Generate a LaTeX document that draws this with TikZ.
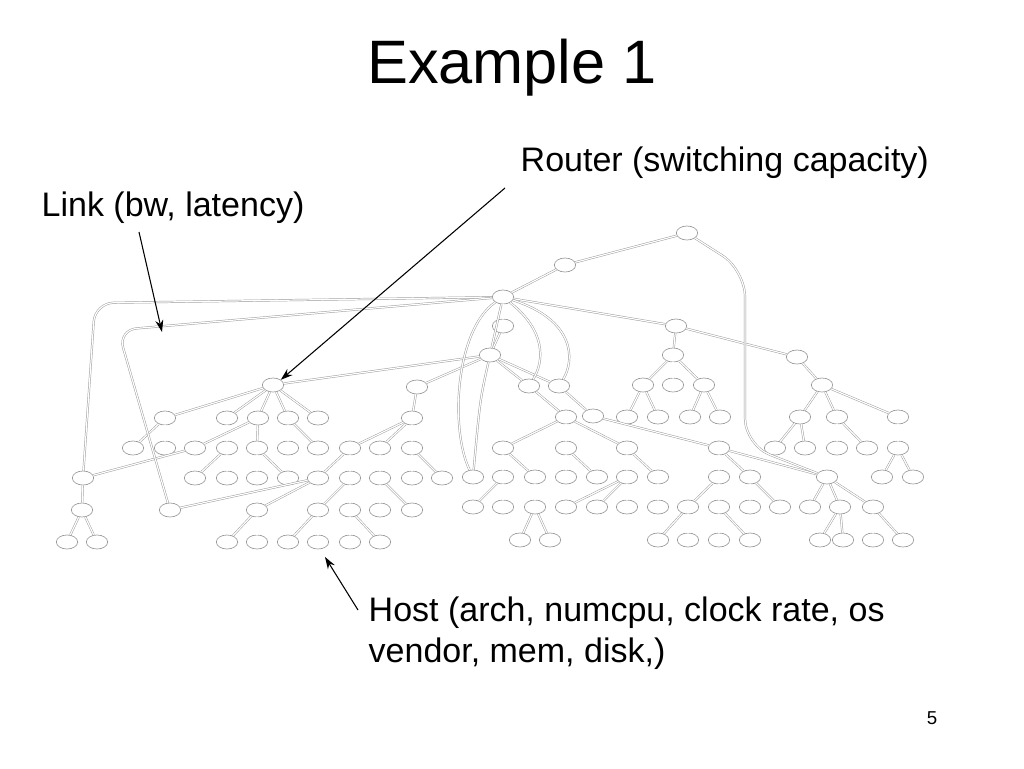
\documentclass[tikz,border=0pt]{standalone}
\usepackage{fontspec}
\setmainfont{Liberation Sans}
\usetikzlibrary{shapes.geometric,arrows.meta}
\begin{document}
\begin{tikzpicture}[x=0.75pt,y=-0.75pt,
    host/.style={draw=gray!80, ellipse, line width=0.5pt, minimum width=16pt, minimum height=10.5pt, inner sep=0pt},
    link/.style={draw=gray!80, line width=0.35pt, double=white, double distance=0.9pt},
    callout/.style={-{Stealth[length=9pt,width=6pt]}, line width=0.8pt},
    label/.style={font=\fontsize{25.5}{31}\selectfont, anchor=west}]
\useasboundingbox (0,0) rectangle (1024,768);

\node (title) at (512,68) {\fontsize{46}{52}\selectfont Example 1};

% routers and hosts
\foreach \n/\x/\y in {r0/687/233, r1/565/265, r2/503/297, r3/503/326, r4/490/355,
    r5/676/326, r6/797/357, a/529/386, b/559/386, c/566/417, e/593/416,
    s1/673/355, s2/643/385, s3/673/385, s4/704/385, s5/627/417, s6/658/417, s7/690/417, s8/720/417,
    t1/822/385, t2/800/417, t3/837/417, t4/898/417, t5/775/448, t6/805/448, t7/837/448, t8/867/448,
    t9/898/448, t10/882/477, t11/913/477,
    c1/503/448, c2/566/448, c3/627/448, e1/719/448, c4/503/477, c5/535/477, c6/473/507, c7/503/507,
    c8/535/507, c9/520/540, c10/550/540, c11/566/477, c12/597/477, c13/627/477, c14/658/477,
    c15/566/507, c16/597/507, c17/627/507, c18/658/507, q/473/477,
    e2/719/477, e3/750/477, r7/827/477, e4/688/507, e5/719/507, e6/750/507, e7/780/507,
    e8/658/540, e9/688/540, e10/719/540, e11/750/540,
    f1/810/507, f2/840/507, f3/873/507, f4/820/540, f5/843/540, f6/873/540, f7/903/540,
    R/273/385, R1/165/418, R2/227/418, R3/258/418, R4/288/418, R5/318/418,
    R6/133/448, R7/165/448, R8/227/448, R9/257/448, R10/288/448, R11/318/448, g/195/448,
    R12/195/478, R13/227/478, R14/257/478, R15/288/478,
    L/83/478, L1/82/510, L2/67/542, L3/97/542, M/170/510,
    m0/417/387, m1/412/418, m2/350/448, m3/380/448, m4/412/448, P/318/478, m5/350/478,
    m6/380/478, m7/412/478, m8/442/478, n1/257/510, n2/227/542, n3/257/542, n4/318/510,
    n5/350/510, n6/288/542, n7/318/542, n8/350/542, n9/380/542, n10/380/510, n11/412/510}
  \node[host] (\n) at (\x,\y) {};

% links
\foreach \u/\v in {r0/r1, r1/r2, r2/r3, r3/r4, r2/r4, r2/r5, r5/r6, r4/a, r4/b, a/c, b/e,
    r5/s1, s1/s2, s1/s3, s1/s4, s2/s5, s2/s6, s4/s7, s4/s8,
    r6/t1, t1/t2, t1/t3, t1/t4, t2/t5, t2/t6, t3/t7, t3/t8, t4/t9, t9/t10, t9/t11,
    c/c1, c/c2, c/c3, e/e1, c1/c4, c1/c5, c4/c6, c4/c7, c5/c8, c8/c9, c8/c10, c2/c11, c2/c12,
    c3/c13, c3/c14, c13/c15, c13/c16, c13/c17, c14/c18,
    e1/e2, e1/e3, e1/r7, e2/e4, e2/e5, e3/e6, e3/e7, e4/e8, e4/e9, e5/e10, e5/e11,
    r7/f1, r7/f2, r7/f3, f2/f4, f2/f5, f3/f6, f3/f7,
    r4/R, R/R1, R/R2, R/R3, R/R4, R/R5, R1/R6, R1/R7, R2/R8, R3/R9, R4/R10, R4/R11, R3/g,
    R8/R12, R8/R13, R9/R14, R9/R15, g/L, L/L1, L1/L2, L1/L3, P/M,
    r4/m0, m0/m1, m1/m2, m1/m3, m1/m4, m2/P, m2/m5, m3/m6, m4/m7, m4/m8, P/n1, n1/n2, n1/n3,
    m5/n4, m5/n5, n4/n6, n4/n7, n5/n8, n5/n9, m6/n10, m6/n11}
  \draw[link] (\u) -- (\v);

% long links
\draw[link, rounded corners=14pt] (r2) -- (95,303) -- (L);
\draw[link, rounded corners=14pt] (r2) -- (118,330) -- (M);
\draw[link] (r2) .. controls (455,330) and (450,430) .. (q);
\draw[link] (r4) .. controls (480,400) .. (q);
\draw[link] (r2) .. controls (545,330) and (545,360) .. (a);
\draw[link] (r2) .. controls (575,320) and (575,360) .. (b);
\draw[link, rounded corners=20pt] (r0) -- (745,270) -- (745,445) -- (r7);

% callouts
\node[label] (router) at (516,163) {Router (switching capacity)};
\node[label] (linktext) at (37,208) {Link (bw, latency)};
\node[label, align=left, anchor=north west] (hosttext) at (364,592) {Host (arch, numcpu, clock rate, os\\vendor, mem, disk,)};
\node (page) at (932,718) {\fontsize{14}{16}\selectfont 5};
\coordinate (linkend) at (162,332);
\coordinate (hostend) at (325,557);
\draw[callout] (505,188) -- (R.north east);
\draw[callout] (139,232) -- (linkend);
\draw[callout] (358,610) -- (hostend);
\end{tikzpicture}
\end{document}
